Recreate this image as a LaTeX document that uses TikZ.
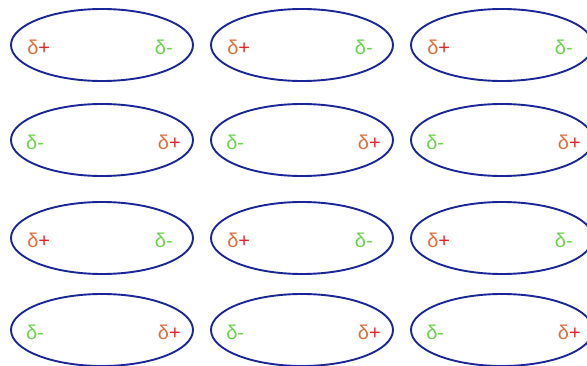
\documentclass[tikz,border=0pt]{standalone}
\usepackage{fontspec}
\newfontfamily\chargefont{Liberation Sans}
\usetikzlibrary{shapes.geometric}
\definecolor{bondblue}{HTML}{1A2696}
\definecolor{posred}{HTML}{E3262A}
\definecolor{posorange}{HTML}{E0703C}
\definecolor{neggreen}{HTML}{6CD34E}
\tikzset{
  mol/.style={ellipse, draw=bondblue, line width=1.9pt, minimum width=182pt,
              minimum height=72pt, inner sep=0pt},
  chg/.style={font=\chargefont\fontsize{20}{20}\selectfont, inner sep=0pt},
  poschg/.style={chg, text=posred},
  negchg/.style={chg, text=neggreen},
}
\newcommand{\dplus}{{\color{posorange}δ}+}
\newcommand{\dminus}{δ-}

\begin{document}
\begin{tikzpicture}[x=1pt, y=-1pt]
  \useasboundingbox (0,0) rectangle (587,366);
  \clip (0,0) rectangle (587,366);
  % row 1: plus on the left
  \node[mol] (m11) at (102,45) {};
  \node[mol] (m12) at (302,45) {};
  \node[mol] (m13) at (502,45) {};
  % row 2: minus on the left
  \node[mol] (m21) at (102,140) {};
  \node[mol] (m22) at (302,140) {};
  \node[mol] (m23) at (502,140) {};
  % row 3
  \node[mol] (m31) at (102,238) {};
  \node[mol] (m32) at (302,238) {};
  \node[mol] (m33) at (502,238) {};
  % row 4
  \node[mol] (m41) at (102,330) {};
  \node[mol] (m42) at (302,330) {};
  \node[mol] (m43) at (502,330) {};
  % charges
  \node[poschg, anchor=west] (p11) at ([xshift=17pt, yshift=-2pt]m11.west) {\dplus};
  \node[negchg, anchor=east] (n11) at ([xshift=-21pt, yshift=-2pt]m11.east) {\dminus};
  \node[poschg, anchor=west] (p12) at ([xshift=17pt, yshift=-2pt]m12.west) {\dplus};
  \node[negchg, anchor=east] (n12) at ([xshift=-21pt, yshift=-2pt]m12.east) {\dminus};
  \node[poschg, anchor=west] (p13) at ([xshift=17pt, yshift=-2pt]m13.west) {\dplus};
  \node[negchg, anchor=east] (n13) at ([xshift=-21pt, yshift=-2pt]m13.east) {\dminus};
  \node[negchg, anchor=west] (n21) at ([xshift=16pt, yshift=-2pt]m21.west) {\dminus};
  \node[poschg, anchor=east] (p21) at ([xshift=-13pt, yshift=-2pt]m21.east) {\dplus};
  \node[negchg, anchor=west] (n22) at ([xshift=16pt, yshift=-2pt]m22.west) {\dminus};
  \node[poschg, anchor=east] (p22) at ([xshift=-13pt, yshift=-2pt]m22.east) {\dplus};
  \node[negchg, anchor=west] (n23) at ([xshift=16pt, yshift=-2pt]m23.west) {\dminus};
  \node[poschg, anchor=east] (p23) at ([xshift=-13pt, yshift=-2pt]m23.east) {\dplus};
  \node[poschg, anchor=west] (p31) at ([xshift=17pt, yshift=-2pt]m31.west) {\dplus};
  \node[negchg, anchor=east] (n31) at ([xshift=-21pt, yshift=-2pt]m31.east) {\dminus};
  \node[poschg, anchor=west] (p32) at ([xshift=17pt, yshift=-2pt]m32.west) {\dplus};
  \node[negchg, anchor=east] (n32) at ([xshift=-21pt, yshift=-2pt]m32.east) {\dminus};
  \node[poschg, anchor=west] (p33) at ([xshift=17pt, yshift=-2pt]m33.west) {\dplus};
  \node[negchg, anchor=east] (n33) at ([xshift=-21pt, yshift=-2pt]m33.east) {\dminus};
  \node[negchg, anchor=west] (n41) at ([xshift=16pt, yshift=-2pt]m41.west) {\dminus};
  \node[poschg, anchor=east] (p41) at ([xshift=-13pt, yshift=-2pt]m41.east) {\dplus};
  \node[negchg, anchor=west] (n42) at ([xshift=16pt, yshift=-2pt]m42.west) {\dminus};
  \node[poschg, anchor=east] (p42) at ([xshift=-13pt, yshift=-2pt]m42.east) {\dplus};
  \node[negchg, anchor=west] (n43) at ([xshift=16pt, yshift=-2pt]m43.west) {\dminus};
  \node[poschg, anchor=east] (p43) at ([xshift=-13pt, yshift=-2pt]m43.east) {\dplus};
\end{tikzpicture}
\end{document}
